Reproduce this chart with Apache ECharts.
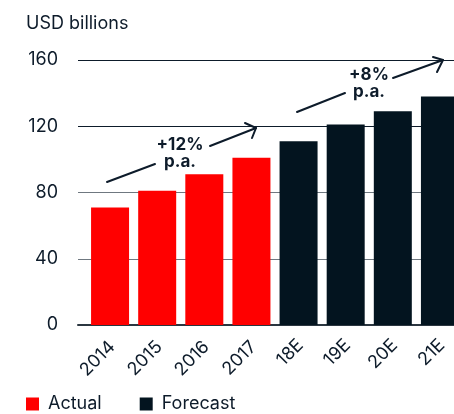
<!DOCTYPE html>
<html>
<head>
<meta charset="utf-8">
<script src="https://cdn.jsdelivr.net/npm/echarts@6/dist/echarts.min.js"></script>
<style>
html,body{margin:0;padding:0;background:#fff;}
#c{width:454px;height:414px;}
</style>
</head>
<body>
<div id="c"></div>
<script>
const categories = ['2014','2015','2016','2017','18E','19E','20E','21E'];
const actualValues = [71, 81, 91, 101, '-', '-', '-', '-'];
const forecastValues = ['-', '-', '-', '-', 111, 121, 129, 138];
const yTicks = {min: 0, max: 160, interval: 40};
const unitLabel = 'USD billions';
const growthLabels = ['+12%\np.a.', '+8%\np.a.'];

const INK = '#0d1b2a';
const FONT = 'Inter, "Noto Sans", sans-serif';
const RED = '#ff0000';
const NAVY = '#03141f';

const chart = echarts.init(document.getElementById('c'), null, {renderer: 'canvas'});

const lineStyle = {stroke: INK, lineWidth: 2, lineCap: 'round', lineJoin: 'round', fill: null};
function seg(x1, y1, x2, y2) {
  return {type: 'line', shape: {x1, y1, x2, y2}, style: lineStyle, silent: true};
}
function head(pts) {
  return {type: 'polyline', shape: {points: pts}, style: lineStyle, silent: true};
}
function label(x, y, t) {
  return {type: 'text', x, y, style: {text: t, font: 'bold 17px ' + FONT, fill: INK, align: 'center', verticalAlign: 'middle', lineHeight: 17}, silent: true};
}

const tickFont = {fontSize: 18, fontFamily: FONT, color: INK};

chart.setOption({
  animation: false,
  title: {
    text: unitLabel, left: 21, top: 10,
    textStyle: {fontFamily: FONT, fontSize: 18, fontWeight: 'normal', color: INK}
  },
  legend: {
    data: ['Actual', 'Forecast'],
    left: 26, top: 395, padding: 0,
    icon: 'rect', itemWidth: 13, itemHeight: 13, itemGap: 38,
    textStyle: {fontFamily: FONT, fontSize: 18, color: INK, padding: [0, 0, 0, 4]}
  },
  grid: [
    {left: 78, right: 0, top: 60, bottom: 89, outerBoundsMode: 'none', containLabel: false},
    {left: 86.5, width: 377, top: 60, bottom: 89, outerBoundsMode: 'none', containLabel: false}
  ],
  xAxis: [
    {gridIndex: 0, type: 'category', data: [''],
     axisLine: {show: true, lineStyle: {color: '#2b3640', width: 2}},
     axisTick: {show: false}, axisLabel: {show: false}},
    {gridIndex: 1, type: 'category', data: categories,
     axisLine: {show: false}, axisTick: {show: false},
     axisLabel: Object.assign({
       rotate: 45, margin: 14, interval: 0,
       formatter: v => (v.length > 3 ? '{l|' : '{s|') + v + '}',
       rich: {
         l: Object.assign({padding: [10, 2, 0, 0]}, tickFont),
         s: Object.assign({padding: [7, 1, 0, 0]}, tickFont)
       }
     }, tickFont)}
  ],
  yAxis: [
    {gridIndex: 0, type: 'value', min: yTicks.min, max: yTicks.max, interval: yTicks.interval,
     axisLine: {show: false}, axisTick: {show: false},
     axisLabel: Object.assign({margin: 20}, tickFont),
     splitLine: {show: true, lineStyle: {color: ['#2b3640', '#6f7880', '#6f7880', '#0d1b2a', '#0d1b2a'], width: 1}}},
    {gridIndex: 1, type: 'value', min: yTicks.min, max: yTicks.max, interval: yTicks.interval, show: false}
  ],
  series: [
    {name: 'Actual', type: 'bar', xAxisIndex: 1, yAxisIndex: 1, stack: 'all', barWidth: 38,
     itemStyle: {color: RED}, data: actualValues},
    {name: 'Forecast', type: 'bar', xAxisIndex: 1, yAxisIndex: 1, stack: 'all', barWidth: 38,
     itemStyle: {color: NAVY}, data: forecastValues}
  ],
  graphic: [
    seg(107, 182, 155, 164), seg(210, 146, 256, 128),
    head([[245, 123], [256, 128], [252, 138]]),
    label(180, 153, growthLabels[0]),
    seg(297, 112, 345, 93), seg(393, 78, 443, 60),
    head([[433, 57], [443, 60], [437, 72]]),
    label(369, 83, growthLabels[1])
  ]
});
</script>
</body>
</html>
